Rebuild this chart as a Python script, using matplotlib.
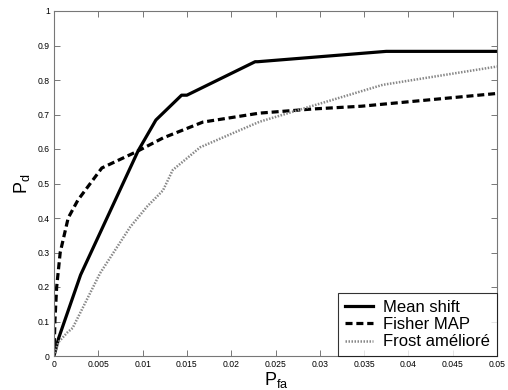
import matplotlib
matplotlib.use("Agg")
import matplotlib.pyplot as plt

plt.rcParams['font.family'] = ['Liberation Sans', 'DejaVu Sans']
plt.rcParams['mathtext.fontset'] = 'custom'
plt.rcParams['mathtext.rm'] = 'Liberation Sans'
plt.rcParams['mathtext.it'] = 'Liberation Sans'

ms_x = [0, 0.0005, 0.003, 0.0095, 0.0115, 0.0144, 0.015, 0.0227, 0.023, 0.0375, 0.05]
ms_y = [0, 0.05, 0.235, 0.595, 0.684, 0.756, 0.756, 0.853, 0.853, 0.883, 0.883]

fm_x = [0, 0.0001, 0.0003, 0.0007, 0.0016, 0.0027, 0.0054, 0.0093, 0.0123, 0.0168, 0.0232, 0.0292, 0.0347, 0.05]
fm_y = [0, 0.1, 0.2, 0.3, 0.4, 0.452, 0.545, 0.592, 0.632, 0.678, 0.704, 0.716, 0.724, 0.761]

fr_x = [0, 0.0005, 0.0015, 0.0021, 0.0052, 0.0086, 0.0105, 0.0123, 0.0134, 0.0165, 0.0202, 0.0232, 0.0289, 0.0371, 0.05]
fr_y = [0, 0.04, 0.068, 0.081, 0.24, 0.374, 0.433, 0.48, 0.539, 0.605, 0.646, 0.679, 0.723, 0.786, 0.839]

labels = ['Mean shift', 'Fisher MAP', 'Frost amélioré']
xticks = [0, 0.005, 0.01, 0.015, 0.02, 0.025, 0.03, 0.035, 0.04, 0.045, 0.05]
xticklabels = ['0', '0.005', '0.01', '0.015', '0.02', '0.025', '0.03', '0.035', '0.04', '0.045', '0.05']
yticks = [0, 0.1, 0.2, 0.3, 0.4, 0.5, 0.6, 0.7, 0.8, 0.9, 1]
yticklabels = ['0', '0.1', '0.2', '0.3', '0.4', '0.5', '0.6', '0.7', '0.8', '0.9', '1']

fig = plt.figure(figsize=(5.08, 3.9), dpi=100)
ax = fig.add_axes([54/508, 34/390, 443/508, 345/390])

ax.plot(ms_x, ms_y, color='black', lw=2.3, solid_joinstyle='round', label=labels[0])
ax.plot(fm_x, fm_y, color='black', lw=2.3, linestyle=(0, (2.2, 1.2)), label=labels[1])
ax.plot(fr_x, fr_y, color='#888888', lw=1.8, linestyle=(0, (0.6, 0.6)), label=labels[2])

ax.set_xlim(0, 0.05)
ax.set_ylim(0, 1)
ax.set_xticks(xticks)
ax.set_xticklabels(xticklabels)
ax.set_yticks(yticks)
ax.set_yticklabels(yticklabels)
ax.tick_params(direction='in', length=4, width=0.7, color='#777777', labelsize=6.2,
               top=True, right=True, pad=3)
for s in ax.spines.values():
    s.set_color('#777777')
    s.set_linewidth(0.8)

ax.set_xlabel(r'$\mathrm{P}_{\mathrm{fa}}$', fontsize=13)
ax.xaxis.set_label_coords(0.501, -0.04)
ax.set_ylabel(r'$\mathrm{P}_{\mathrm{d}}$', fontsize=13)
ax.yaxis.set_label_coords(-0.05, 0.5)

leg = ax.legend(loc='lower right', fontsize=12, frameon=True, fancybox=False,
                edgecolor='black', borderaxespad=0, handlelength=1.7,
                borderpad=0.4, labelspacing=0.14, handletextpad=0.6)
leg.get_frame().set_linewidth(0.8)

fig.savefig('out.png', dpi=100)
